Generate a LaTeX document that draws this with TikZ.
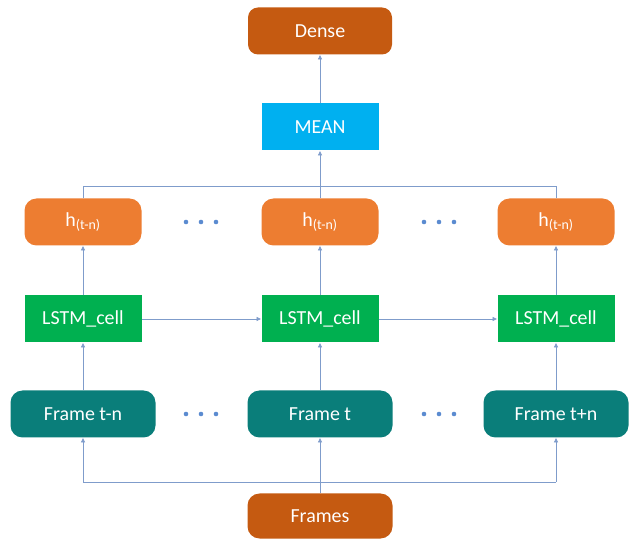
\documentclass[tikz,border=0pt]{standalone}
\usepackage{fontspec}
\setmainfont{Carlito}
\definecolor{densebrown}{HTML}{C55A11}
\definecolor{horange}{HTML}{ED7D31}
\definecolor{meanblue}{HTML}{00B0F0}
\definecolor{lstmgreen}{HTML}{00B050}
\definecolor{frameteal}{HTML}{0A7E7A}
\definecolor{linkblue}{HTML}{7F9CCB}
\definecolor{dotblue}{HTML}{5B8BD0}
\tikzset{
  box/.style={minimum width=117*0.03cm,minimum height=47*0.03cm,text=white,
    font=\fontsize{17}{20}\selectfont,inner sep=0pt},
  roundbox/.style={box,rounded corners=0.36cm},
  link/.style={draw=linkblue,line width=0.6pt},
  arr/.style={link,-{Latex[length=4pt,width=4pt]}},
}
\usetikzlibrary{arrows.meta}
\begin{document}
\begin{tikzpicture}[x=0.03cm,y=-0.03cm]
\useasboundingbox (0,0) rectangle (635,541);
\def\l{83}
\def\m{320}
\def\r{556}

\node[roundbox,fill=densebrown,minimum width=144*0.03cm,rounded corners=0.3cm] (dense) at (\m,31) {Dense};
\node[box,fill=meanblue] (mean) at (\m,127) {MEAN};

\node[roundbox,fill=horange] (hl) at (\l,222) {h\textsubscript{(t-n)}};
\node[roundbox,fill=horange] (hm) at (\m,222) {h\textsubscript{(t-n)}};
\node[roundbox,fill=horange] (hr) at (\r,222) {h\textsubscript{(t-n)}};

\node[box,fill=lstmgreen] (cl) at (\l,319) {LSTM\_cell};
\node[box,fill=lstmgreen] (cm) at (\m,319) {LSTM\_cell};
\node[box,fill=lstmgreen] (cr) at (\r,319) {LSTM\_cell};

\node[roundbox,fill=frameteal,minimum width=145*0.03cm] (fl) at (\l,414) {Frame t-n};
\node[roundbox,fill=frameteal,minimum width=145*0.03cm] (fm) at (\m,414) {Frame t};
\node[roundbox,fill=frameteal,minimum width=145*0.03cm] (fr) at (\r,414) {Frame t+n};

\node[roundbox,fill=densebrown,minimum width=145*0.03cm,minimum height=45*0.03cm] (frames) at (\m,516) {Frames};

% dots between the columns
\foreach \px in {201,439}{
  \foreach \dy in {222,414}{
    \foreach \k in {-15,0,15}
      \fill[dotblue] (\px+\k,\dy) circle (2.3);
  }
}

% input fan-out
\coordinate (inl) at (\l,482);
\coordinate (inr) at (\r,482);
\draw[link] (inl) -- (inr);
\draw[arr] (inl) -- (fl);
\draw[arr] (inr) -- (fr);
\draw[arr] (frames) -- (fm);

\draw[arr] (fl) -- (cl);
\draw[arr] (fm) -- (cm);
\draw[arr] (fr) -- (cr);

\draw[arr] (cl) -- (cm);
\draw[arr] (cm) -- (cr);

\draw[arr] (cl) -- (hl);
\draw[arr] (cm) -- (hm);
\draw[arr] (cr) -- (hr);

% outputs gathered into the mean
\coordinate (outl) at (\l,186);
\coordinate (outr) at (\r,186);
\draw[link] (hl) -- (outl) -- (outr) -- (hr);
\draw[arr] (hm) -- (mean);
\draw[arr] (mean) -- (dense);
\end{tikzpicture}
\end{document}
